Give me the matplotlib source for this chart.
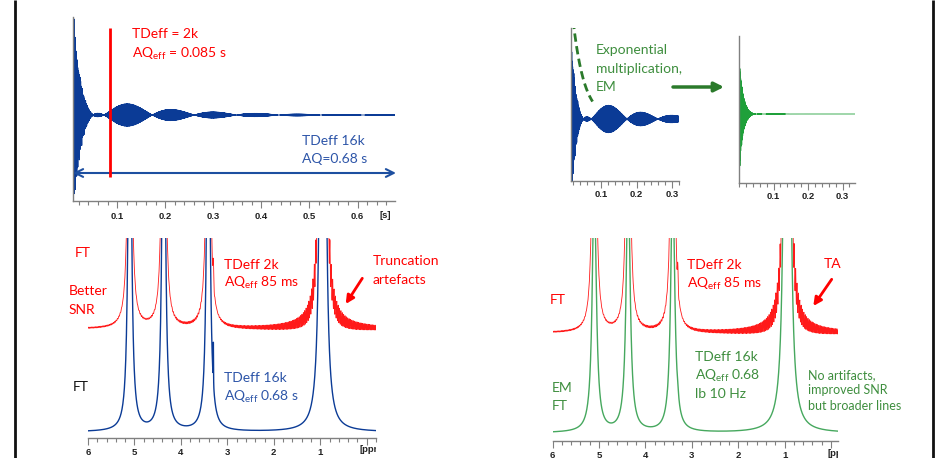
import numpy as np
import matplotlib
matplotlib.use("Agg")
import matplotlib.pyplot as plt
from matplotlib.ticker import FixedLocator, MultipleLocator, FixedFormatter
from matplotlib.transforms import Bbox, TransformedBbox

plt.rcParams['font.family'] = ['Lato', 'DejaVu Sans']
plt.rcParams['mathtext.default'] = 'regular'

# ---------------- acquisition parameters ----------------
SF_MHZ = 400.0          # spectrometer frequency
O1_PPM = 8.0            # carrier position
TD_FULL = 16384         # full time-domain size (real + imaginary)
AQ_FULL = 0.68          # s
TD_TRUNC = 2048         # truncated time-domain size
AQ_TRUNC = 0.085        # s
LB_HZ = 10.0            # exponential line broadening

# ---------------- resonances ----------------
peak_ppm = [5.100, 4.370, 3.410, 3.300, 0.945, 0.95925, 0.93075]
peak_area = [0.06, 0.06, 0.06, 0.0004, 0.31, 0.030, 0.030]
peak_fwhm_hz = [30.0, 30.0, 30.0, 1.5, 13.0, 2.2, 2.2]
peak_phase_deg = [0.0, 0.0, 0.0, 0.0, 0.0, 95.6, -95.6]

# axis ticks
fid_ticks_long = [0.1, 0.2, 0.3, 0.4, 0.5, 0.6]
fid_ticks_short = [0.1, 0.2, 0.3]
ppm_ticks = [6, 5, 4, 3, 2, 1, 0]
ppm_labels = ["6", "5", "4", "3", "2", "1", ""]

# ---------------- signal processing ----------------
n_full = TD_FULL // 2
n_trunc = TD_TRUNC // 2
dwell = AQ_FULL / n_full
t = np.arange(n_full) * dwell
nu = (np.asarray(peak_ppm) - O1_PPM) * SF_MHZ

fid = np.zeros(n_full, dtype=complex)
for a, f, w, ph in zip(peak_area, nu, peak_fwhm_hz, peak_phase_deg):
    fid += a * np.exp(1j * np.deg2rad(ph)) * np.exp(2j * np.pi * f * t) * np.exp(-np.pi * w * t)

em_window = np.exp(-np.pi * LB_HZ * t)
fid_em = fid * em_window


def spectrum(signal):
    g = np.zeros(n_full, dtype=complex)
    g[:len(signal)] = signal
    g[0] *= 0.5
    return np.fft.fftshift(np.fft.fft(g)).real * dwell


freq = np.fft.fftshift(np.fft.fftfreq(n_full, dwell))
ppm = O1_PPM + freq / SF_MHZ
sel = (ppm > -0.4) & (ppm < 6.3)
ppm_s = ppm[sel]
spec_full = spectrum(fid)[sel]
spec_trunc = spectrum(fid[:n_trunc])[sel]
spec_em = spectrum(fid_em)[sel]

# vertical display gains (pixels per unit intensity)
GAIN_FULL = 7.2e5
GAIN_TRUNC = 7.2e5
GAIN_EM = 5.4e5

# ---------------- styling ----------------
BLUE = "#0b3b96"
BLUE_TXT = "#2d55a8"
RED = "#ff1a1a"
GREEN_TXT = "#3e8e3e"
GREEN_DK = "#2b7a2b"
GREEN_FID = "#1fa03a"
GREEN_SPEC = "#46a85e"
AX_GREY = "#808080"
TICK_TXT = "#222222"

W, H = 935, 458
fig = plt.figure(figsize=(W / 100, H / 100), dpi=100)
fig.patch.set_facecolor("white")


def axes_px(x0, y0, x1, y1):
    return fig.add_axes([x0 / W, 1 - y1 / H, (x1 - x0) / W, (y1 - y0) / H])


def style_axes(ax, left_spine=True):
    for s in ("top", "right"):
        ax.spines[s].set_visible(False)
    ax.spines["left"].set_visible(left_spine)
    for s in ("left", "bottom"):
        ax.spines[s].set_color(AX_GREY)
        ax.spines[s].set_linewidth(1.0)
    ax.set_yticks([])
    ax.patch.set_alpha(0)
    ax.tick_params(axis="x", which="both", direction="out", color=AX_GREY, width=0.8,
                   labelsize=6.8, labelcolor=TICK_TXT)
    ax.tick_params(axis="x", which="major", length=5)
    ax.tick_params(axis="x", which="minor", length=3)


def bold_ticklabels(ax):
    for lab in ax.get_xticklabels():
        lab.set_fontfamily("Liberation Sans")
        lab.set_fontweight("bold")


def fid_axis(ax, ticks, pad):
    ax.xaxis.set_major_locator(FixedLocator(ticks))
    ax.xaxis.set_major_formatter(FixedFormatter([f"{v:.1f}" for v in ticks]))
    ax.xaxis.set_minor_locator(MultipleLocator(0.02))
    style_axes(ax)
    ax.tick_params(axis="x", which="major", pad=pad)
    bold_ticklabels(ax)


# ---------- top left: full FID ----------
ax1 = axes_px(73, 17, 395, 201)
ax1.set_xlim(0.008, 0.678)
v1 = t >= 0.008
g1 = 96 / fid.real[v1].max()
ax1.plot(t, g1 * fid.real, color=BLUE, lw=0.6)
ax1.set_ylim(-86, 98)
fid_axis(ax1, fid_ticks_long, 3)
ax1.vlines(AQ_TRUNC, -62, 87, color="#ff0000", lw=2.0, zorder=5)
ax1.annotate("", xy=(AQ_FULL, -58), xytext=(0.008, -58), annotation_clip=False,
             arrowprops=dict(arrowstyle="<->", color="#1d4fa0", lw=1.5,
                             shrinkA=0, shrinkB=0, mutation_scale=14))

# ---------- top right: FID with window, and weighted FID ----------
ax2 = axes_px(571, 28, 679, 181)
ax2.set_xlim(0.015, 0.32)
m2 = (t >= 0.015) & (t <= 0.33)
g2 = 67 / fid.real[m2].max()
ax2.plot(t[m2], g2 * fid.real[m2], color=BLUE, lw=0.6)
me = (t >= 0.021) & (t <= 0.076)
ax2.plot(t[me], 190 * em_window[me], color=GREEN_DK, lw=2.0, ls=(0, (3, 1.6)), zorder=5)
ax2.set_ylim(-62, 91)
fid_axis(ax2, fid_ticks_short, 1.5)

ax3 = axes_px(739, 36, 855, 183)
m3 = t <= 0.34
g3 = 78 / fid_em.real[m3].max()
ax3.plot(t[m3], g3 * fid_em.real[m3], color=GREEN_FID, lw=0.6)
ax3.set_xlim(0.0, 0.336)
ax3.set_ylim(-69, 78)
fid_axis(ax3, fid_ticks_short, 1.5)


def ppm_axis(ax):
    ax.xaxis.set_major_locator(FixedLocator(ppm_ticks))
    ax.xaxis.set_major_formatter(FixedFormatter(ppm_labels))
    ax.xaxis.set_minor_locator(MultipleLocator(0.2))
    style_axes(ax, left_spine=False)
    ax.tick_params(axis="x", which="major", pad=2)
    bold_ticklabels(ax)


# ---------- bottom left: 2k vs 16k ----------
ax4 = axes_px(88, 238, 376, 438)
ax4.plot(ppm_s, 109 + GAIN_TRUNC * spec_trunc, color=RED, lw=0.6)
ax4.plot(ppm_s, 6 + GAIN_FULL * spec_full, color=BLUE, lw=1.0)
ax4.set_xlim(6.0, -0.2)
ax4.set_ylim(0, 200)
ppm_axis(ax4)

# ---------- bottom right: 2k vs EM ----------
ax5 = axes_px(552.5, 238, 838, 441)
ax5.plot(ppm_s, 108 + GAIN_TRUNC * spec_trunc, color=RED, lw=0.6)
ax5.plot(ppm_s, 8 + GAIN_EM * spec_em, color=GREEN_SPEC, lw=1.0)
ax5.set_xlim(6.0, -0.15)
ax5.set_ylim(0, 203)
ppm_axis(ax5)

# ---------- overlay for labels, arrows and frame ----------
ov = fig.add_axes([0, 0, 1, 1])
ov.set_xlim(0, W)
ov.set_ylim(H, 0)
ov.axis("off")
ov.set_zorder(10)
ov.patch.set_visible(False)

ov.plot([15, 15], [0, H], color="#111111", lw=2.0, solid_capstyle="butt")
ov.plot([932.5, 932.5], [0, H], color="#111111", lw=2.0, solid_capstyle="butt")

FS = 10.0


def txt(x, y, s, color, size=FS):
    ov.text(x, y, s, color=color, fontsize=size, ha="left", va="baseline")


txt(132, 38.5, "TDeff = 2k", "#ff0000")
txt(132, 57.5, "AQ$_{eff}$ = 0.085 s", "#ff0000")
txt(302, 145, "TDeff 16k", BLUE_TXT)
txt(302, 163, "AQ=0.68 s", BLUE_TXT)

txt(596, 54, "Exponential", GREEN_TXT)
txt(596, 72.7, "multiplication,", GREEN_TXT)
txt(596, 90.7, "EM", GREEN_TXT)

txt(75, 256.7, "FT", "#ff0000")
txt(68.5, 295.3, "Better", "#ff0000")
txt(68.5, 314, "SNR", "#ff0000")
txt(73, 390.7, "FT", "#111111")
txt(224, 269, "TDeff 2k", "#ff0000")
txt(224, 287.3, "AQ$_{eff}$ 85 ms", "#ff0000")
txt(373, 265.3, "Truncation", "#ff0000")
txt(373, 284, "artefacts", "#ff0000")
txt(224, 382.3, "TDeff 16k", BLUE_TXT)
txt(224, 400.7, "AQ$_{eff}$ 0.68 s", BLUE_TXT)

txt(686.7, 269.3, "TDeff 2k", "#ff0000")
txt(686.7, 287.7, "AQ$_{eff}$ 85 ms", "#ff0000")
txt(823.3, 267.7, "TA", "#ff0000")
txt(549.3, 304, "FT", "#ff0000")
txt(695, 361, "TDeff 16k", GREEN_TXT)
txt(695, 380, "AQ$_{eff}$ 0.68", GREEN_TXT)
txt(695, 397.7, "lb 10 Hz", GREEN_TXT)
txt(551.7, 391.7, "EM", GREEN_TXT)
txt(551.7, 410, "FT", GREEN_TXT)
txt(808.3, 378.7, "No artifacts,", GREEN_TXT, 9)
txt(808.3, 394, "improved SNR", GREEN_TXT, 9)
txt(808.3, 410, "but broader lines", GREEN_TXT, 9)

arrow_red = dict(arrowstyle="-|>", color="#ff0000", lw=2.0, shrinkA=0, shrinkB=0, mutation_scale=12)
ov.annotate("", xy=(345.7, 304), xytext=(362.3, 278.3), arrowprops=arrow_red)
ov.annotate("", xy=(813.3, 306), xytext=(831.7, 279.3), arrowprops=arrow_red)
ov.annotate("", xy=(724, 87), xytext=(673, 87),
            arrowprops=dict(arrowstyle="-|>", color=GREEN_DK, lw=2.5, shrinkA=0, shrinkB=0,
                            mutation_scale=14))

unit_kw = dict(fontsize=6.8, fontweight="bold", family="Liberation Sans", color=TICK_TXT,
               va="center")
ov.text(385, 215, "[s]", ha="center", **unit_kw)
for x_lab, y_lab, x_end in ((360, 450, 376), (828, 453, 838)):
    lab = ov.text(x_lab, y_lab, "[ppm]", ha="left", **unit_kw)
    lab.set_clip_box(TransformedBbox(Bbox.from_extents(0, 0, x_end / W, 1), fig.transFigure))
    lab.set_clip_on(True)

fig.savefig("out.png", dpi=100)
